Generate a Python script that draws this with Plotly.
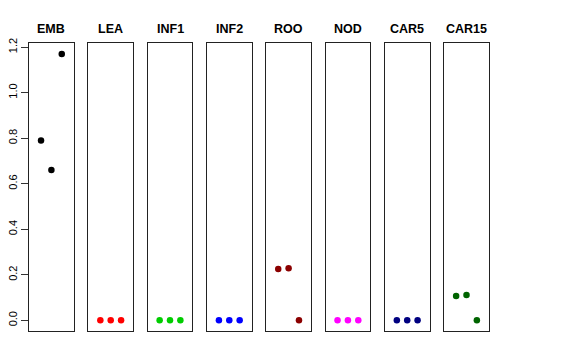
import plotly.graph_objects as go

tissues = ["EMB", "LEA", "INF1", "INF2", "ROO", "NOD", "CAR5", "CAR15"]
colors = ["#000000", "#FF0000", "#00CD00", "#0000FF", "#8B0000", "#FF00FF", "#000080", "#006400"]
x_idx = [1, 2, 3]
values = {
    "EMB": [0.79, 0.66, 1.17],
    "LEA": [0.0, 0.0, 0.0],
    "INF1": [0.0, 0.0, 0.0],
    "INF2": [0.0, 0.0, 0.0],
    "ROO": [0.225, 0.229, 0.0],
    "NOD": [0.0, 0.0, 0.0],
    "CAR5": [0.0, 0.0, 0.0],
    "CAR15": [0.107, 0.111, 0.0],
}
y_ticks = [0.0, 0.2, 0.4, 0.6, 0.8, 1.0, 1.2]

W, H = 576, 360
OFF = 8  # page body margin
fig = go.Figure()
ymax = max(max(v) for v in values.values())
ymin = 0.0
pad = 0.04 * (ymax - ymin)
yrange = [ymin - pad, ymax + pad]
xlim = [0, 4]
xpad = 0.04 * (xlim[1] - xlim[0])
xrange = [xlim[0] - xpad, xlim[1] + xpad]
top_px, bot_px = 43.3 - OFF, 331.0 - OFF
left0, pw, step = 29.0 - OFF, 44.8, 59.3

for i, (t, c) in enumerate(zip(tissues, colors)):
    n = "" if i == 0 else str(i + 1)
    fig.add_trace(go.Scatter(x=x_idx, y=values[t], mode="markers",
                             marker=dict(color=c, size=6.5),
                             xaxis="x" + n, yaxis="y" + n, showlegend=False,
                             hoverinfo="skip"))
    l = left0 + i * step
    r = l + pw
    fig.layout["xaxis" + n] = dict(domain=[l / W, r / W], range=xrange,
                                   showgrid=False, zeroline=False, showticklabels=False,
                                   ticks="", showline=True, mirror=True, automargin=False,
                                   linecolor="#222222", linewidth=1, anchor="y" + n,
                                   fixedrange=True)
    ydict = dict(domain=[1 - bot_px / H, 1 - top_px / H], range=yrange,
                 showgrid=False, zeroline=False, showline=True, mirror=True,
                 automargin=False,
                 linecolor="#222222", linewidth=1, anchor="x" + n, fixedrange=True)
    if i == 0:
        ydict.update(tickmode="array", tickvals=y_ticks,
                     ticktext=[f"{v:.1f}" for v in y_ticks], ticks="outside",
                     ticklen=7, tickcolor="#333333", tickangle=-90,
                     tickfont=dict(family="Liberation Sans, Arial, sans-serif", size=11,
                                   color="black"))
    else:
        ydict.update(showticklabels=False, ticks="")
    fig.layout["yaxis" + n] = ydict
    fig.add_annotation(x=(l + r) / 2 / W, y=1 - (29 - OFF) / H, xref="paper", yref="paper",
                       text=f"<b>{t}</b>", showarrow=False,
                       font=dict(family="Liberation Sans, Arial, sans-serif", size=12.5,
                                 color="black"),
                       xanchor="center", yanchor="middle")

fig.update_layout(width=W, height=H, margin=dict(l=0, r=0, t=0, b=0),
                  plot_bgcolor="white", paper_bgcolor="white")
fig.write_html("out.html")
